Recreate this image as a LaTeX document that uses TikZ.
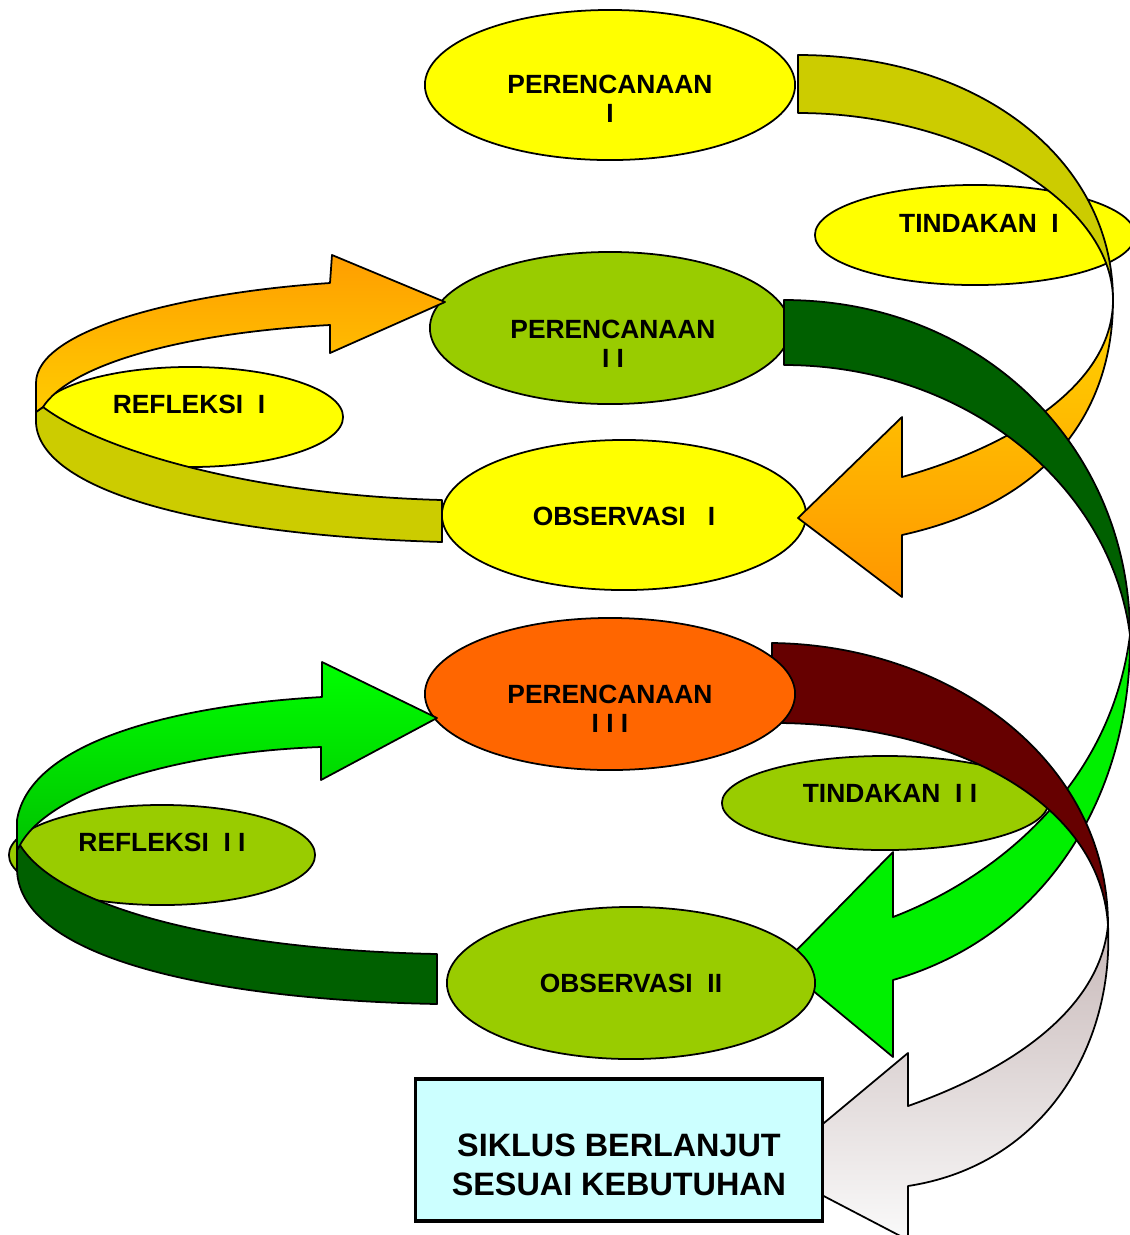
\documentclass[tikz,border=0pt]{standalone}
\usepackage{fontspec}
\setmainfont{Liberation Sans}
\definecolor{kuning}{RGB}{255, 255, 0}
\definecolor{hijaumuda}{RGB}{153, 204, 0}
\definecolor{oranye}{RGB}{255, 102, 0}
\definecolor{zaitun}{RGB}{204, 204, 0}
\definecolor{hijautua}{RGB}{0, 96, 0}
\definecolor{hijauterang}{RGB}{0, 240, 0}
\definecolor{coklat}{RGB}{102, 0, 0}
\definecolor{birumuda}{RGB}{204, 255, 255}
\usetikzlibrary{shapes.geometric}

\begin{document}
\begin{tikzpicture}[
            x=0.01cm, y=-0.01cm,
            tahap/.style={ellipse, draw=black, line width=0.5pt, inner sep=0pt},
            teks/.style={font=\bfseries\fontsize{7.5}{8.4}\selectfont, align=center, inner sep=0pt},
            pita/.style={draw=black, line width=0.5pt, line join=round}
        ]
            \useasboundingbox (0,0) rectangle (1130,1235);

            \node[tahap, fill=kuning, minimum width=3.2cm, minimum height=1.0cm] (tin1) at (975,235) {};
            \node[tahap, fill=kuning, minimum width=3.7cm, minimum height=1.5cm] (per1) at (610,85) {};
            \draw[pita, fill=zaitun] (798,55) .. controls (980,55) and (1113,160) .. (1113,300) .. controls (1113,200) and (960,113) .. (798,113) -- cycle;

            \node[tahap, fill=kuning, minimum width=3.64cm, minimum height=1.5cm] (obs1) at (624,515) {};
            \draw[pita, top color={rgb,255:red,255;green,212;blue,0}, bottom color={rgb,255:red,255;green,150;blue,0}] (1113,300) .. controls (1113,400) and (1060,500) .. (902,535) -- (902,597) -- (798,518) -- (902,417) -- (902,477) .. controls (1000,450) and (1113,390) .. (1113,300) -- cycle;

            \node[tahap, fill=kuning, minimum width=3.06cm, minimum height=1.0cm] (ref1) at (190,417) {};
            \node[tahap, fill=hijaumuda, minimum width=3.6cm, minimum height=1.52cm] (per2) at (610,328) {};
            \draw[pita, fill=zaitun] (442,500) .. controls (250,495) and (100,450) .. (43,407) -- (36,412) -- (36,423) .. controls (40,490) and (200,535) .. (442,542) -- cycle;
            \draw[pita, top color={rgb,255:red,255;green,158;blue,0}, bottom color={rgb,255:red,255;green,204;blue,0}] (36,412) -- (36,383) .. controls (36,330) and (180,293) .. (330,283) -- (332,255) -- (445,302) -- (330,353) -- (330,325) .. controls (180,333) and (70,365) .. (43,407) -- cycle;

            \draw[pita, fill=hijautua] (784,300) .. controls (985,300) and (1130,450) .. (1130,635) .. controls (1110,480) and (960,365) .. (784,365) -- cycle;
            \draw[pita, fill=hijauterang] (1130,635) .. controls (1132,790) and (1050,935) .. (893,980) -- (893,1057) -- (782,965) -- (893,852) -- (893,917) .. controls (990,880) and (1110,790) .. (1130,635) -- cycle;

            \node[tahap, fill=hijaumuda, minimum width=3.26cm, minimum height=0.94cm] (tin2) at (885,803) {};
            \draw[pita, fill=coklat] (772,643) .. controls (950,645) and (1108,760) .. (1108,925) .. controls (1100,800) and (950,725) .. (780,723) -- (772,723) -- cycle;
            \node[tahap, fill=oranye, minimum width=3.7cm, minimum height=1.52cm] (per3) at (610,694) {};

            \node[tahap, fill=hijaumuda, minimum width=3.06cm, minimum height=1.0cm] (ref2) at (162,855) {};
            \draw[pita, fill=hijautua] (437,954) .. controls (230,950) and (60,910) .. (20,845) -- (17,850) -- (17,870) .. controls (20,960) and (220,1000) .. (437,1004) -- cycle;
            \draw[pita, top color={rgb,255:red,0;green,255;blue,0}, bottom color={rgb,255:red,0;green,195;blue,0}] (17,850) -- (17,820) .. controls (30,740) and (180,705) .. (322,697) -- (322,662) -- (437,718) -- (321,780) -- (321,747) .. controls (180,752) and (50,790) .. (20,845) -- cycle;

            \node[tahap, fill=hijaumuda, minimum width=3.68cm, minimum height=1.52cm] (obs2) at (631,983) {};
            \draw[pita, top color={rgb,255:red,200;green,185;blue,185}, bottom color={rgb,255:red,250;green,250;blue,250}] (1108,925) .. controls (1114,1045) and (1045,1165) .. (908,1186) -- (908,1240) -- (770,1168) -- (908,1053) -- (908,1106) .. controls (1010,1070) and (1100,1010) .. (1108,925) -- cycle;

            \node[draw=black, line width=0.9pt, fill=birumuda, minimum width=4.06cm, minimum height=1.42cm] (lanjut) at (619,1150) {};

            \node[teks] (tper1) at (610,99) {PERENCANAAN\\I};
            \node[teks] (ttin1) at (979,223) {TINDAKAN~~I};
            \node[teks] (tper2) at (613,344) {PERENCANAAN\\I~I};
            \node[teks] (tref1) at (189,404) {REFLEKSI~~I};
            \node[teks] (tobs1) at (624,516) {OBSERVASI~~~I};
            \node[teks] (tper3) at (610,709) {PERENCANAAN\\I~I~I};
            \node[teks] (ttin2) at (890,793) {TINDAKAN~~I~I};
            \node[teks] (tref2) at (162,842) {REFLEKSI~~I~I};
            \node[teks] (tobs2) at (631,983) {OBSERVASI~~II};
            \node[teks, font=\bfseries\fontsize{9.2}{11.1}\selectfont] (tlanjut) at (619,1165) {SIKLUS BERLANJUT\\SESUAI KEBUTUHAN};
        \end{tikzpicture}
\end{document}
